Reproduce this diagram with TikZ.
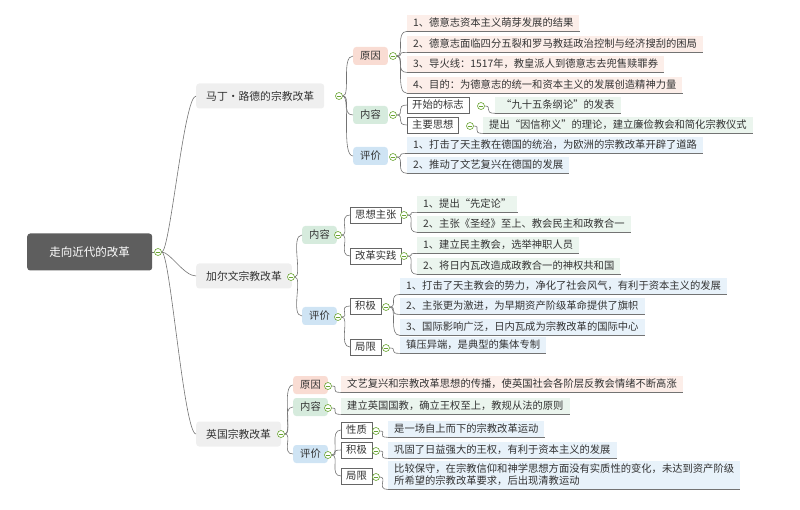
\documentclass[tikz,border=0pt]{standalone}
\usepackage{fontspec}
\setmainfont{Noto Sans CJK SC}
\usetikzlibrary{positioning}
\definecolor{rootgray}{HTML}{5E5E5E}
\definecolor{topgray}{HTML}{EFEFEF}
\definecolor{redbox}{HTML}{F9DCD3}
\definecolor{redleaf}{HTML}{FCEEE9}
\definecolor{greenbox}{HTML}{D6EBDD}
\definecolor{greenleaf}{HTML}{EBF5EE}
\definecolor{bluebox}{HTML}{CFE4F4}
\definecolor{blueleaf}{HTML}{E8F2FA}
\definecolor{foldgreen}{HTML}{6AA532}
\tikzset{
  base/.style={anchor=west,font=\fontsize{10.3}{12}\selectfont,text=black!80,inner xsep=6pt,minimum height=17pt},
  rootbox/.style={base,fill=rootgray,text=white,rounded corners=3pt,minimum height=37pt,minimum width=125pt,font=\fontsize{11.5}{13}\selectfont},
  topbox/.style={base,fill=topgray,rounded corners=3pt,minimum height=25pt,inner xsep=10pt,font=\fontsize{10.8}{13}\selectfont},
  catbox/.style={base,rounded corners=3pt,minimum height=18pt,inner xsep=7pt},
  subbox/.style={base,draw=black!60,fill=white,minimum height=16pt,inner xsep=5pt},
  leaf/.style={base,minimum height=16pt},
  branch/.style={draw=black!55,line width=.6pt},
  foldmark/.style={circle,draw=foldgreen,fill=white,line width=.6pt,minimum size=7pt,inner sep=0pt,
    path picture={\draw[foldgreen,line width=.7pt] ([xshift=1.3pt]path picture bounding box.west) -- ([xshift=-1.3pt]path picture bounding box.east);}}
}
% leaf with underline
\newcommand\leafnode[5]{\node[leaf,fill=#4] (#1) at (#2,#3) {#5};
  \draw[black!55,line width=.6pt] (#1.south west) -- (#1.south east);}
\newcommand\link[2]{\draw[branch] (#1) .. controls +(12,0) and +(-12,0) .. (#2);}
\begin{document}
\begin{tikzpicture}[x=1pt,y=-1pt]
\useasboundingbox (0,0) rectangle (800,510);

% root and main branches
\node[rootbox] (root) at (27,252) {走向近代的改革};
\node[topbox] (luther) at (196,96) {马丁·路德的宗教改革};
\node[topbox] (calvin) at (196,276) {加尔文宗教改革};
\node[topbox] (england) at (196,434) {英国宗教改革};
\node[foldmark] (froot) at (158,252) {};
\link{froot}{luther.west}
\link{froot}{calvin.west}
\link{froot}{england.west}
\draw[branch] (root.east) -- (froot);

% Luther
\node[catbox,fill=redbox] (lcause) at (353,56) {原因};
\node[catbox,fill=greenbox] (lcontent) at (353,115) {内容};
\node[catbox,fill=bluebox] (lvalue) at (353,156) {评价};
\node[foldmark] (fluther) at (339,96) {};
\foreach \n in {lcause,lcontent,lvalue} {\link{fluther}{\n.west}}
\leafnode{lc1}{407}{23}{redleaf}{1、德意志资本主义萌芽发展的结果}
\leafnode{lc2}{407}{44}{redleaf}{2、德意志面临四分五裂和罗马教廷政治控制与经济搜刮的困局}
\leafnode{lc3}{407}{64}{redleaf}{3、导火线：1517年，教皇派人到德意志去兜售赎罪券}
\leafnode{lc4}{407}{85}{redleaf}{4、目的：为德意志的统一和资本主义的发展创造精神力量}
\node[foldmark] (flcause) at (393,56) {};
\foreach \n in {lc1,lc2,lc3,lc4} {\link{flcause}{\n.south west}}
\node[subbox] (lstart) at (407,105) {开始的标志};
\node[subbox] (lidea) at (407,125) {主要思想};
\node[foldmark] (flcontent) at (393,115) {};
\link{flcontent}{lstart.west}
\link{flcontent}{lidea.west}
\leafnode{ls1}{495}{105}{greenleaf}{“九十五条纲论”的发表}
\leafnode{li1}{483}{125}{greenleaf}{提出“因信称义”的理论，建立廉俭教会和简化宗教仪式}
\node[foldmark] (flstart) at (481,106) {};
\node[foldmark] (flidea) at (470,126) {};
\link{flstart}{ls1.south west}
\link{flidea}{li1.south west}
\leafnode{lv1}{407}{145}{blueleaf}{1、打击了天主教在德国的统治，为欧洲的宗教改革开辟了道路}
\leafnode{lv2}{407}{165}{blueleaf}{2、推动了文艺复兴在德国的发展}
\node[foldmark] (flvalue) at (393,157) {};
\link{flvalue}{lv1.south west}
\link{flvalue}{lv2.south west}

% Calvin
\node[catbox,fill=greenbox] (ccontent) at (302,235) {内容};
\node[catbox,fill=bluebox] (cvalue) at (302,316) {评价};
\node[foldmark] (fcalvin) at (291,277) {};
\link{fcalvin}{ccontent.west}
\link{fcalvin}{cvalue.west}
\node[subbox] (cidea) at (350,215) {思想主张};
\node[subbox] (cpractice) at (350,256) {改革实践};
\node[foldmark] (fccontent) at (338,235) {};
\link{fccontent}{cidea.west}
\link{fccontent}{cpractice.west}
\leafnode{ci1}{417}{204}{greenleaf}{1、提出“先定论”}
\leafnode{ci2}{417}{224}{greenleaf}{2、主张《圣经》至上、教会民主和政教合一}
\leafnode{cp1}{417}{245}{greenleaf}{1、建立民主教会，选举神职人员}
\leafnode{cp2}{417}{266}{greenleaf}{2、将日内瓦改造成政教合一的神权共和国}
\node[foldmark] (fcidea) at (404,215) {};
\node[foldmark] (fcpractice) at (404,256) {};
\link{fcidea}{ci1.south west}
\link{fcidea}{ci2.south west}
\link{fcpractice}{cp1.south west}
\link{fcpractice}{cp2.south west}
\node[subbox] (cpos) at (350,306) {积极};
\node[subbox] (climit) at (350,347) {局限};
\node[foldmark] (fcvalue) at (338,317) {};
\link{fcvalue}{cpos.west}
\link{fcvalue}{climit.west}
\leafnode{cv1}{400}{286}{blueleaf}{1、打击了天主教会的势力，净化了社会风气，有利于资本主义的发展}
\leafnode{cv2}{400}{306}{blueleaf}{2、主张更为激进，为早期资产阶级革命提供了旗帜}
\leafnode{cv3}{400}{327}{blueleaf}{3、国际影响广泛，日内瓦成为宗教改革的国际中心}
\leafnode{cl1}{400}{345}{blueleaf}{镇压异端，是典型的集体专制}
\node[foldmark] (fcpos) at (386,307) {};
\node[foldmark] (fclimit) at (386,348) {};
\foreach \n in {cv1,cv2,cv3} {\link{fcpos}{\n.south west}}
\link{fclimit}{cl1.south west}

% England
\node[catbox,fill=redbox] (ecause) at (293,385) {原因};
\node[catbox,fill=greenbox] (econtent) at (293,407) {内容};
\node[catbox,fill=bluebox] (evalue) at (293,454) {评价};
\node[foldmark] (fengland) at (281,434) {};
\foreach \n in {ecause,econtent,evalue} {\link{fengland}{\n.west}}
\leafnode{ec1}{341}{384}{redleaf}{文艺复兴和宗教改革思想的传播，使英国社会各阶层反教会情绪不断高涨}
\leafnode{en1}{341}{406}{greenleaf}{建立英国国教，确立王权至上，教规从法的原则}
\node[foldmark] (fecause) at (328,386) {};
\node[foldmark] (fecontent) at (328,408) {};
\link{fecause}{ec1.south west}
\link{fecontent}{en1.south west}
\node[subbox] (enature) at (341,430) {性质};
\node[subbox] (epos) at (341,450) {积极};
\node[subbox] (elimit) at (341,476) {局限};
\node[foldmark] (fevalue) at (328,455) {};
\foreach \n in {enature,epos,elimit} {\link{fevalue}{\n.west}}
\leafnode{ev1}{388}{429}{blueleaf}{是一场自上而下的宗教改革运动}
\leafnode{ev2}{388}{450}{blueleaf}{巩固了日益强大的王权，有利于资本主义的发展}
\node[leaf,fill=blueleaf,align=left,font=\fontsize{10.3}{12}\selectfont] (ev3) at (388,475)
  {比较保守，在宗教信仰和神学思想方面没有实质性的变化，未达到资产阶级\\所希望的宗教改革要求，后出现清教运动};
\draw[black!55,line width=.6pt] (ev3.south west) -- (ev3.south east);
\node[foldmark] (fenature) at (376,431) {};
\node[foldmark] (fepos) at (376,451) {};
\node[foldmark] (felimit) at (376,477) {};
\link{fenature}{ev1.south west}
\link{fepos}{ev2.south west}
\link{felimit}{ev3.south west}
\end{tikzpicture}
\end{document}
